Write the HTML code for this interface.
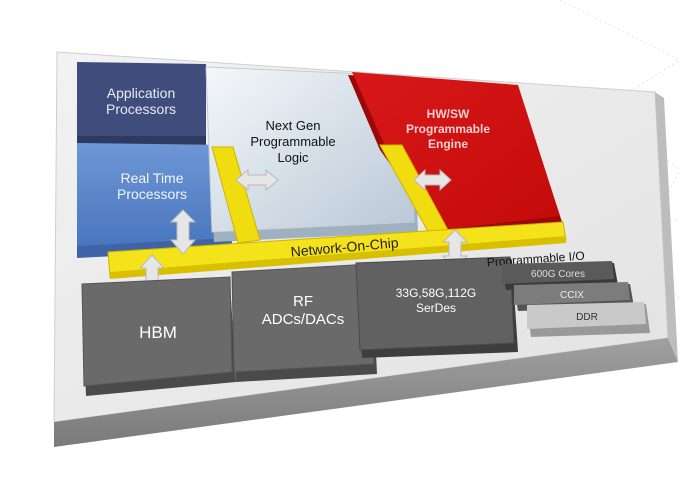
<!DOCTYPE html>
<html><head><meta charset="utf-8"><style>
html,body{margin:0;padding:0;background:#fff;width:680px;height:481px;overflow:hidden}
svg text{font-family:"Liberation Sans",sans-serif}
</style></head><body>
<svg width="680" height="481" viewBox="0 0 680 481" xmlns="http://www.w3.org/2000/svg">
<defs>
<linearGradient id="top" x1="0" y1="0" x2="1" y2="1"><stop offset="0" stop-color="#f2f2f2"/><stop offset="1" stop-color="#e2e2e2"/></linearGradient>
<linearGradient id="front" x1="0" y1="0" x2="0" y2="1"><stop offset="0" stop-color="#a0a0a0"/><stop offset="1" stop-color="#7a7a7a"/></linearGradient>
<linearGradient id="ng" x1="0" y1="0" x2="1" y2="1"><stop offset="0" stop-color="#f4f7fa"/><stop offset="1" stop-color="#b9c8d6"/></linearGradient>
<linearGradient id="rt" x1="0" y1="0" x2="0" y2="1"><stop offset="0" stop-color="#6e97d6"/><stop offset="1" stop-color="#4a76be"/></linearGradient>
<linearGradient id="red" x1="0" y1="0" x2="1" y2="1"><stop offset="0" stop-color="#d81818"/><stop offset="1" stop-color="#c40a0a"/></linearGradient>
</defs>
<g stroke="#e4e4e4" stroke-dasharray="2,3" fill="none">
<path d="M560 0 L680 60 M600 110 L680 60 M600 110 L680 170 M640 250 L680 170 M640 250 L680 300 M560 220 L680 220"/>
</g>
<!-- platform -->
<polygon points="57,52 655,92 668,338 54,422" fill="url(#top)" stroke="#cfcfcf"/>
<polygon points="655,92 664,98 678,362 668,338" fill="#bdbdbd"/>
<polygon points="54,422 668,338 678,362 54,447" fill="url(#front)"/>
<!-- App processors -->
<polygon points="77,65 206,67 206,150 77,150" fill="#2f3a63"/>
<polygon points="77,62 206,64 206,136 77,136" fill="#3f4c7c"/>
<text x="141" y="98" fill="#e8ecf5" font-size="14" text-anchor="middle">Application</text>
<text x="141" y="114" fill="#e8ecf5" font-size="14" text-anchor="middle">Processors</text>
<!-- Real time -->
<polygon points="77,145 230,147 232,250 77,258" fill="#3f63a6"/>
<polygon points="77,143 230,145 232,238 77,246" fill="url(#rt)"/>
<text x="152" y="183" fill="#f2f5fb" font-size="14" text-anchor="middle">Real Time</text>
<text x="152" y="199" fill="#f2f5fb" font-size="14" text-anchor="middle">Processors</text>
<!-- Next gen -->
<polygon points="206,70 412,79 418,232 214,242" fill="#9fb0c0"/>
<polygon points="206,67 412,76 414,222 212,232" fill="url(#ng)" stroke="#c4ccd4"/>
<text x="293" y="130" fill="#111" font-size="13" text-anchor="middle">Next Gen</text>
<text x="293" y="146" fill="#111" font-size="13" text-anchor="middle">Programmable</text>
<text x="293" y="162" fill="#111" font-size="13" text-anchor="middle">Logic</text>
<!-- HW/SW -->
<polygon points="348,75 518,88 562,222 440,234 380,150" fill="#9c0808"/>
<polygon points="352,72 518,85 560,216 440,230 385,146" fill="url(#red)"/>
<text x="448" y="118" fill="#f4d0d0" font-size="12" font-weight="bold" text-anchor="middle">HW/SW</text>
<text x="448" y="133" fill="#f4d0d0" font-size="12" font-weight="bold" text-anchor="middle">Programmable</text>
<text x="448" y="148" fill="#f4d0d0" font-size="12" font-weight="bold" text-anchor="middle">Engine</text>
<!-- yellow strips -->
<polygon points="212,147 233,147 260,240 238,243" fill="#f1dc10" stroke="#cbb400"/>
<polygon points="380,145 402,145 448,230 430,235" fill="#f1dc10" stroke="#cbb400"/>
<!-- NoC -->
<polygon points="108,252 563,222 566,240 110,277" fill="#f4e21a" stroke="#cbb400"/>
<polygon points="110,272 566,236 566,243 110,279" fill="#d8c000"/>
<text x="345" y="252" fill="#222" font-size="14" text-anchor="middle" transform="rotate(-5 345 252)">Network-On-Chip</text>
<!-- arrows -->
<g fill="#e6e6e6" stroke="#b8b8b8" stroke-width="1">
<polygon points="236,180 248,170 248,175 266,175 266,170 278,180 266,190 266,185 248,185 248,190"/>
<polygon points="414,180 425,170 425,175 440,175 440,170 451,180 440,190 440,185 425,185 425,190"/>
<polygon points="183,210 195,222 189,222 189,240 195,240 183,254 171,240 177,240 177,222 171,222"/>
<polygon points="152,255 164,268 158,268 158,286 164,286 152,300 140,286 146,286 146,268 140,268"/>
<polygon points="455,230 467,242 461,242 461,256 467,256 455,270 443,256 449,256 449,242 443,242"/>
</g>
<!-- bottom blocks -->
<polygon points="82,288 230,281 236,382 86,396" fill="#4a4a4a"/>
<polygon points="82,284 230,277 232,372 84,386" fill="#6a6a6a" stroke="#555"/>
<text x="158" y="338" fill="#fff" font-size="17" text-anchor="middle">HBM</text>
<polygon points="232,275 372,267 377,374 236,382" fill="#4a4a4a"/>
<polygon points="232,272 370,264 374,364 234,372" fill="#6a6a6a" stroke="#555"/>
<text x="303" y="306" fill="#fff" font-size="15" text-anchor="middle">RF</text>
<text x="303" y="324" fill="#fff" font-size="15" text-anchor="middle">ADCs/DACs</text>
<polygon points="356,266 512,260 518,352 362,358" fill="#3e3e3e"/>
<polygon points="356,263 510,257 514,343 360,350" fill="#616161" stroke="#4a4a4a"/>
<text x="436" y="297" fill="#fff" font-size="12" text-anchor="middle">33G,58G,112G</text>
<text x="436" y="312" fill="#fff" font-size="12" text-anchor="middle">SerDes</text>
<text x="536" y="263" fill="#111" font-size="12" text-anchor="middle" transform="rotate(-4 536 263)">Programmable I/O</text>
<polygon points="502,266 614,263 618,285 506,290" fill="#3a3a3a"/>
<polygon points="502,264 612,261 614,279 502,284" fill="#5a5a5a"/>
<text x="558" y="277" fill="#ddd" font-size="10" text-anchor="middle">600G Cores</text>
<polygon points="514,287 630,284 634,307 518,311" fill="#555"/>
<polygon points="514,285 628,282 630,300 514,305" fill="#7c7c7c"/>
<text x="572" y="298" fill="#eee" font-size="10" text-anchor="middle">CCIX</text>
<polygon points="527,307 646,304 650,333 531,337" fill="#999"/>
<polygon points="527,305 644,302 646,324 527,329" fill="#c9c9c9"/>
<text x="587" y="320" fill="#333" font-size="10" text-anchor="middle">DDR</text>
</svg>
</body></html>
